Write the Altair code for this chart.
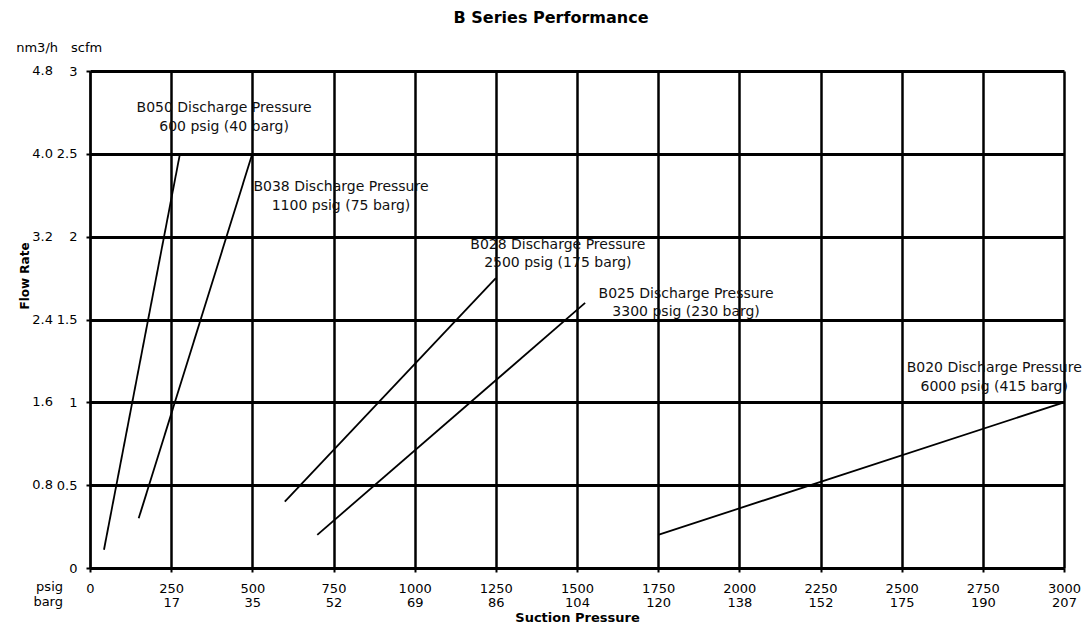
import json
import altair as alt
import pandas as pd

# ---- data ----
series = ["B050", "B038", "B028", "B025", "B020"]
x_start = [43, 150, 600, 700, 1750]
x_end = [277, 500, 1250, 1525, 3000]
y_start = [0.11, 0.30, 0.40, 0.20, 0.20]
y_end = [2.5, 2.5, 1.75, 1.6, 1.0]

label_line1 = ["B050 Discharge Pressure", "B038 Discharge Pressure", "B028 Discharge Pressure",
               "B025 Discharge Pressure", "B020 Discharge Pressure"]
label_line2 = ["600 psig (40 barg)", "1100 psig (75 barg)", "2500 psig (175 barg)",
               "3300 psig (230 barg)", "6000 psig (415 barg)"]
label_x = [413, 773, 1441, 1836, 2785]
label_y1 = [2.777, 2.30, 1.95, 1.654, 1.207]
label_y2 = [2.662, 2.185, 1.841, 1.545, 1.093]

psig_ticks = [0, 250, 500, 750, 1000, 1250, 1500, 1750, 2000, 2250, 2500, 2750, 3000]
barg_labels = ["", "17", "35", "52", "69", "86", "104", "120", "138", "152", "175", "190", "207"]
scfm_ticks = [0, 0.5, 1, 1.5, 2, 2.5, 3]
nm3h_labels = ["", "0.8", "1.6", "2.4", "3.2", "4.0", "4.8"]

FONT = "DejaVu Sans"
W, H = 974, 497

seg_df = pd.DataFrame({"series": series, "x": x_start, "x2": x_end, "y": y_start, "y2": y_end})
lab_df = pd.DataFrame({
    "x": label_x + label_x,
    "y": label_y1 + label_y2,
    "text": label_line1 + label_line2,
})
nm_df = pd.DataFrame({"scfm": scfm_ticks, "nm": nm3h_labels})

xs = alt.Scale(domain=[0, 3000], nice=False, zero=False)
ys = alt.Scale(domain=[0, 3], nice=False)

barg_expr = "[datum.label, " + json.dumps(barg_labels) + "[round(datum.value / 250)]]"

x_axis = alt.Axis(
    values=psig_ticks, format="d", labelExpr=barg_expr, labelLineHeight=14,
    title="Suction Pressure", titleFont=FONT, titleFontSize=13, titleFontWeight="bold",
    titleColor="black", titlePadding=2,
    labelFont=FONT, labelFontSize=13, labelColor="black", labelPadding=10,
    labelBaseline="top", labelFlush=False, labelOverlap=False,
    grid=True, gridColor="black", gridWidth=2.5, gridOpacity=1,
    domainColor="black", domainWidth=2, tickColor="black", tickSize=4, tickWidth=2,
)
y_axis = alt.Axis(
    values=scfm_ticks, format="~g", title=None,
    labelFont=FONT, labelFontSize=13, labelColor="black", labelPadding=9,
    labelFlush=False, labelOverlap=False,
    grid=True, gridColor="black", gridWidth=3, gridOpacity=1,
    domainColor="black", domainWidth=2, tickColor="black", tickSize=4, tickWidth=2,
)

lines = alt.Chart(seg_df).mark_rule(color="black", strokeWidth=1.8).encode(
    x=alt.X("x:Q", scale=xs, axis=x_axis),
    y=alt.Y("y:Q", scale=ys, axis=y_axis),
    x2="x2:Q",
    y2="y2:Q",
)

labels = alt.Chart(lab_df).mark_text(
    font=FONT, fontSize=14, color="#111111", align="center", baseline="middle"
).encode(x=alt.X("x:Q", scale=xs), y=alt.Y("y:Q", scale=ys), text="text:N")

nm_text = alt.Chart(nm_df).mark_text(
    font=FONT, fontSize=13, color="black", align="right", baseline="middle"
).encode(x=alt.value(-37), y=alt.Y("scfm:Q", scale=ys), text="nm:N")


def fixed_text(txt, px, py, align="center", size=13, weight="normal", angle=0):
    return alt.Chart(pd.DataFrame({"t": [txt]})).mark_text(
        font=FONT, fontSize=size, fontWeight=weight, color="black", align=align,
        baseline="middle", angle=angle
    ).encode(x=alt.value(px), y=alt.value(py), text="t:N")


heads = [
    fixed_text("nm3/h", -32, -23, "right"),
    fixed_text("scfm", -19, -23, "left"),
    fixed_text("psig", -27, 516, "right"),
    fixed_text("barg", -27, 531, "right"),
    fixed_text("B Series Performance", 461, -53, "center", 16, "bold"),
    fixed_text("Flow Rate", -65, 205, "center", 12, "bold", 270),
]

chart = alt.layer(lines, labels, nm_text, *heads).properties(
    width=W, height=H,
    autosize=alt.AutoSizeParams(type="none"),
    padding={"left": 82, "top": 63, "right": 19, "bottom": 56},
    background="white",
).configure_view(strokeWidth=0)

chart.save("out.html", embed_options={"renderer": "svg", "actions": False})
